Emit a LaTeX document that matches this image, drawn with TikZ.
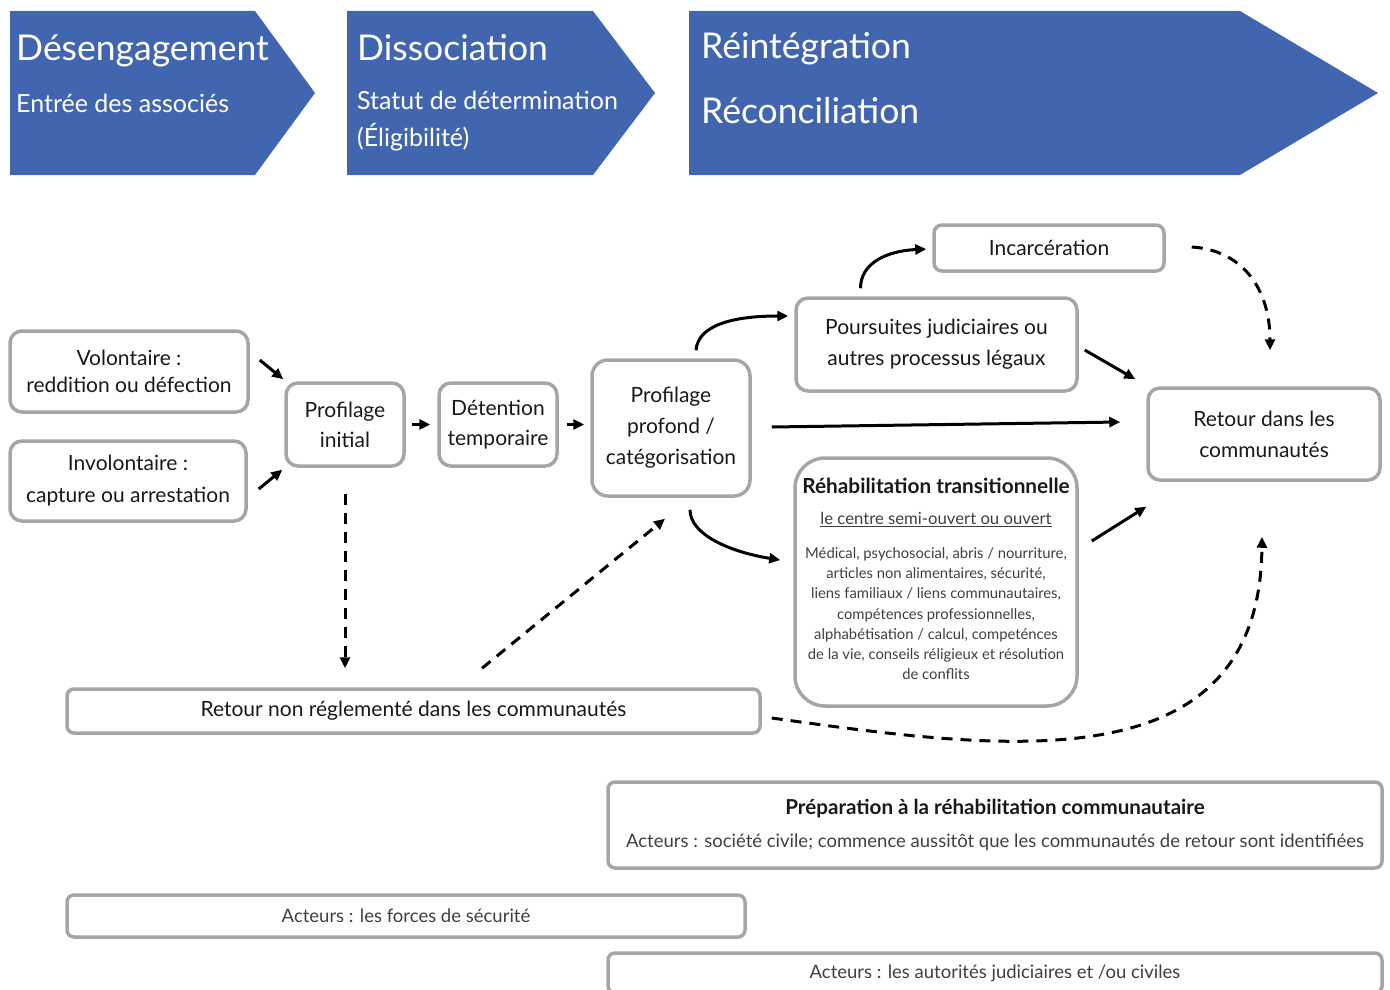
\documentclass[tikz,border=0pt]{standalone}
\usepackage{fontspec}
\setmainfont{Lato}
\usepackage{xcolor}
\usetikzlibrary{positioning,arrows.meta,calc}
\definecolor{phaseblue}{HTML}{4166AF}
\definecolor{boxgray}{HTML}{A6A6A6}
\definecolor{txtgray}{HTML}{404040}
\tikzset{
  box/.style={draw=boxgray, line width=3.5pt, rounded corners=12pt, fill=white, align=center, text=black!90, font=\fontsize{21}{31}\selectfont, inner sep=0pt},
  wide/.style={box, rounded corners=7pt},
  phase/.style={fill=phaseblue},
  ptitle/.style={text=white, anchor=base west, inner sep=0pt, font=\fontsize{35.5}{40}\selectfont},
  psub/.style={ptitle, font=\fontsize{25}{30}\selectfont},
  arr/.style={-{Triangle[length=11pt,width=10pt]}, line width=3pt},
  darr/.style={arr, dash pattern=on 11pt off 8pt},
}

\begin{document}
\begin{tikzpicture}[x=1pt, y=-1pt]
\useasboundingbox (0,0) rectangle (1390,990);
% phases
\fill[phase] (10,11) -- (255,11) -- (315,93) -- (255,175) -- (10,175) -- cycle;
\fill[phase] (347,11) -- (593,11) -- (655,93) -- (593,175) -- (347,175) -- cycle;
\fill[phase] (689,11) -- (1240,11) -- (1378,93) -- (1240,175) -- (689,175) -- cycle;
\node[ptitle] (diseng) at (16,60) {Désengagement};
\node[psub] (diseng2) at (16,113) {Entrée des associés};
\node[ptitle] (dissoc) at (357,60) {Dissociation};
\node[psub] (dissoc2) at (357,110) {Statut de détermination};
\node[psub] (dissoc3) at (357,146) {(Éligibilité)};
\node[ptitle] (reint) at (701,59) {Réintégration};
\node[ptitle] (recon) at (701,123) {Réconciliation};

% boxes
\node[box, minimum width=238, minimum height=81, font=\fontsize{21}{27}\selectfont] (vol) at (129,371.5) {Volontaire :\\reddition ou défection};
\node[box, minimum width=236, minimum height=80, font=\fontsize{21}{32}\selectfont] (invol) at (128,481) {Involontaire :\\capture ou arrestation};
\node[box, minimum width=118, minimum height=83, font=\fontsize{21}{30}\selectfont] (prof1) at (345,424.5) {Profilage\\initial};
\node[box, minimum width=118, minimum height=83, font=\fontsize{21}{30}\selectfont] (det) at (498,424.5) {Détention\\temporaire};
\node[box, minimum width=158, minimum height=136, rounded corners=16pt] (prof2) at (671,428) {Profilage\\profond /\\catégorisation};
\node[box, minimum width=281, minimum height=93] (pours) at (936.5,344.5) {Poursuites judiciaires ou\\autres processus légaux};
\node[box, minimum width=230, minimum height=46, rounded corners=8pt] (incar) at (1049,248) {Incarcération};
\node[box, minimum width=282, minimum height=248, rounded corners=30pt] (rehab) at (936,582) {};
\node[inner sep=0pt, font=\fontsize{20.8}{24}\selectfont\bfseries, text=black!90] (rehabT) at ($(rehab.north)+(0,30)$) {Réhabilitation transitionnelle};
\node[inner sep=0pt, font=\fontsize{16.7}{18}\selectfont, text=txtgray] (rehabU) at ($(rehab.north)+(0,63)$) {\underline{le centre semi-ouvert ou ouvert}};
\node[inner sep=0pt, align=center, font=\fontsize{14.8}{20.2}\selectfont, text=txtgray] (rehabB) at ($(rehab.north)+(0,157.5)$) {Médical, psychosocial, abris / nourriture,\\articles non alimentaires, sécurité,\\liens familiaux / liens communautaires,\\compétences professionnelles,\\alphabétisation / calcul, competénces\\de la vie, conseils réligieux et résolution\\de conflits};
\node[box, minimum width=232, minimum height=92] (retour) at (1264,434) {Retour dans les\\communautés};
\node[wide, minimum width=693, minimum height=44] (retnon) at (413.5,711) {Retour non réglementé dans les communautés};
\node[wide, minimum width=774, minimum height=86, font=\fontsize{18.5}{33}\selectfont, text=txtgray] (prep) at (995,825) {{\fontsize{20.6}{22}\selectfont\bfseries\color{black!90}Préparation à la réhabilitation communautaire}\\Acteurs : société civile; commence aussitôt que les communautés de retour sont identifiées};
\node[wide, minimum width=678, minimum height=42, font=\fontsize{18.5}{20}\selectfont, text=txtgray] (forces) at (406,916) {Acteurs : les forces de sécurité};
\node[wide, minimum width=774, minimum height=40, font=\fontsize{18.5}{20}\selectfont, text=txtgray] (judic) at (995,973) {Acteurs : les autorités judiciaires et /ou civiles};

% arrows
\draw[arr] ($(vol.east)+(10,-11.5)$) -- ($(prof1.north west)+(-1,-2)$);
\draw[arr] ($(invol.east)+(11,8)$) -- ($(prof1.south west)+(-2,2)$);
\draw[arr, shorten <=6pt, shorten >=7pt] (prof1.east) -- (prof1.east -| det.west);
\draw[arr, shorten <=8pt, shorten >=6pt] (det.east) -- (det.east -| prof2.west);
\draw[arr] ($(prof2.north)+(25,-8)$) .. controls +(2,-27) and +(-50,0) .. ($(pours.west)+(-6,-28.5)$);
\draw[arr] ($(pours.north)+(-76,-8)$) .. controls +(0,-25) and +(-40,2) .. ($(incar.west)+(-6,1)$);
\draw[arr] ($(prof2.east)+(20,-1)$) -- ($(retour.west)+(-26,-12)$);
\draw[arr] ($(pours.east)+(6,5.5)$) -- ($(retour.north west)+(-11,-7)$);
\draw[arr] ($(prof2.south)+(19,12)$) .. controls +(0,25) and +(-50,-8) .. ($(rehab.west)+(-13,-22)$);
\draw[arr] ($(rehab.east)+(13,-41)$) -- ($(retour.south west)+(0,25)$);
\draw[darr] ($(incar.east)+(26,-1)$) .. controls +(50,3) and +(0,-62) .. ($(retour.north)+(6,-36)$);
\draw[darr, shorten <=26pt, shorten >=19pt] (prof1.south) -- (prof1.south |- retnon.north);
\draw[darr] ($(retnon.north)+(68.5,-19)$) -- ($(prof2.south)+(-6,21)$);
\draw[darr] ($(retnon.east)+(10,7)$) .. controls +(230,32) and +(-2,250) .. ($(retour.south)+(-2,55)$);
\end{tikzpicture}
\end{document}
